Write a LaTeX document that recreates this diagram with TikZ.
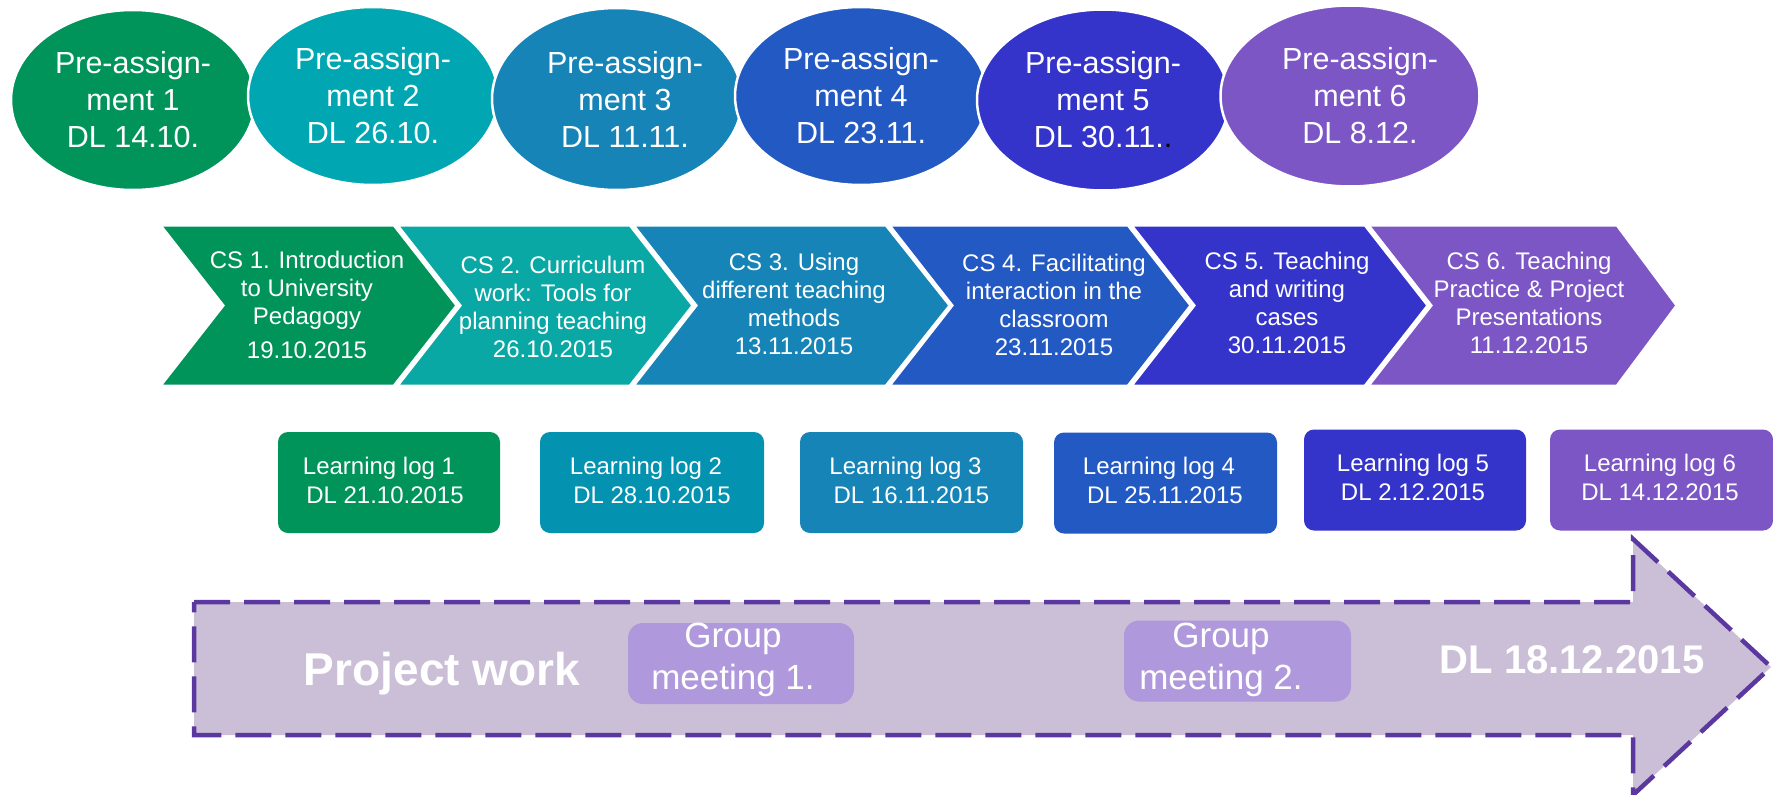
\documentclass[tikz,border=0pt]{standalone}
\usepackage{fontspec}
\setmainfont{Liberation Sans}
\usetikzlibrary{shapes.geometric}
\definecolor{cA}{HTML}{00945A}
\definecolor{cBe}{HTML}{00A7B3}
\definecolor{cBc}{HTML}{0AA8A5}
\definecolor{cBl}{HTML}{0392AF}
\definecolor{cC}{HTML}{1684B6}
\definecolor{cD}{HTML}{2359C3}
\definecolor{cE}{HTML}{3434CB}
\definecolor{cF}{HTML}{7C56C5}
\definecolor{arrfill}{HTML}{CBBFD8}
\definecolor{arrline}{HTML}{5B37A0}
\definecolor{gmfill}{HTML}{AF99DC}
\begin{document}
\begin{tikzpicture}[x=1pt,y=-1pt,
  pre/.style={ellipse, draw=white, line width=2.5pt, inner sep=0pt,
    minimum height=180pt, text=white, align=center,
    font=\fontsize{30.5}{37}\selectfont},
  chev/.style={draw=white, line width=3pt, line join=miter},
  cstext/.style={text=white, align=center, inner sep=0pt,
    font=\fontsize{24}{28}\selectfont},
  logbox/.style={rounded corners=10pt, inner sep=0pt, minimum height=101pt},
  logtext/.style={text=white, align=center, inner sep=0pt,
    font=\fontsize{24}{29}\selectfont},
  bigarrow/.style={fill=arrfill, draw=arrline, line width=4.5pt,
    dash pattern=on 36pt off 14pt, line join=miter},
  gmbox/.style={fill=gmfill, rounded corners=15pt, minimum height=81pt},
  gmtext/.style={text=white, align=center, inner sep=0pt,
    font=\fontsize{35}{42.5}\selectfont},
  bigtext/.style={text=white, inner sep=0pt}
]
\useasboundingbox (0,0) rectangle (1773,795);

% ---- pre-assignment ellipses ----
\node[pre, fill=cA,  minimum width=244pt] (e1) at (133,100) {Pre-assign-\\ment 1\\DL 14.10.};
\node[pre, fill=cBe, minimum width=250pt, minimum height=178pt] (e2) at (373,96) {Pre-assign-\\ment 2\\DL 26.10.};
\node[pre, fill=cC,  minimum width=250pt, minimum height=182pt] (e3) at (617,99) {\hspace*{16pt}Pre-assign-\\\hspace*{16pt}ment 3\\\hspace*{16pt}DL 11.11.};
\node[pre, fill=cD,  minimum width=252pt, minimum height=178pt] (e4) at (861,96) {Pre-assign-\\ment 4\\DL 23.11.};
\node[pre, fill=cE,  minimum width=252pt, minimum height=181pt] (e5) at (1103,100) {Pre-assign-\\ment 5\\DL 30.11.{\color{black}.}};
\node[pre, fill=cF,  minimum width=259pt, minimum height=181pt] (e6) at (1350,96) {\hspace*{20pt}Pre-assign-\\\hspace*{20pt}ment 6\\\hspace*{20pt}DL 8.12.};

% ---- chevrons ----
\path[chev, fill=cA]  (160,225) -- (394,225) -- (457,305.5) -- (394,386) -- (160,386) -- (223,305.5) -- cycle;
\path[chev, fill=cBc] (397,225) -- (630,225) -- (693,305.5) -- (630,386) -- (397,386) -- (460,305.5) -- cycle;
\path[chev, fill=cC]  (633,225) -- (886,225) -- (950,305.5) -- (886,386) -- (633,386) -- (696,305.5) -- cycle;
\path[chev, fill=cD]  (889,225) -- (1128,225) -- (1191,305.5) -- (1128,386) -- (889,386) -- (952,305.5) -- cycle;
\path[chev, fill=cE]  (1131,225) -- (1365,225) -- (1428,305.5) -- (1365,386) -- (1131,386) -- (1194,305.5) -- cycle;
\path[chev, fill=cF]  (1368,225) -- (1617,225) -- (1677,305.5) -- (1617,386) -- (1368,386) -- (1431,305.5) -- cycle;

\node[cstext] (c1) at (307,305) {CS 1. Introduction\\to University\\Pedagogy\\[6pt]19.10.2015};
\node[cstext] (c2) at (553,307) {CS 2. Curriculum\\work: Tools for\\planning teaching\\26.10.2015};
\node[cstext] (c3) at (794,304) {CS 3. Using\\different teaching\\methods\\13.11.2015};
\node[cstext] (c4) at (1054,305) {CS 4. Facilitating\\interaction in the\\classroom\\23.11.2015};
\node[cstext] (c5) at (1287,303) {CS 5. Teaching\\and writing\\cases\\30.11.2015};
\node[cstext] (c6) at (1529,303) {CS 6. Teaching\\Practice \& Project\\Presentations\\11.12.2015};

% ---- learning logs ----
\node[logbox, fill=cA,  minimum width=222pt] (l1) at (389,482.5) {};
\node[logbox, fill=cBl, minimum width=224pt] (l2) at (652,482.5) {};
\node[logbox, fill=cC,  minimum width=223pt] (l3) at (911.5,482.5) {};
\node[logbox, fill=cD,  minimum width=223pt] (l4) at (1165.5,483) {};
\node[logbox, fill=cE,  minimum width=222pt] (l5) at (1415,480) {};
\node[logbox, fill=cF,  minimum width=223pt] (l6) at (1661.5,480) {};
\node[logtext] (l1t) at (385,480) {Learning log 1\hspace*{12pt}\\DL 21.10.2015};
\node[logtext] (l2t) at (652,480) {Learning log 2\hspace*{12pt}\\DL 28.10.2015};
\node[logtext] (l3t) at (911.5,480) {Learning log 3\hspace*{12pt}\\DL 16.11.2015};
\node[logtext] (l4t) at (1165,480) {Learning log 4\hspace*{12pt}\\DL 25.11.2015};
\node[logtext] (l5t) at (1413,477) {Learning log 5\\DL 2.12.2015};
\node[logtext] (l6t) at (1660,477) {Learning log 6\\DL 14.12.2015};

% ---- project arrow ----
\path[bigarrow] (194,602) -- (1633,602) -- (1633,539) -- (1771,667)
  -- (1633,795) -- (1633,735) -- (194,735) -- cycle;

\node[gmbox, minimum width=226pt] (g1) at (741,663.5) {};
\node[gmbox, minimum width=227pt] (g2) at (1237.5,661) {};
\node[gmtext] (g1t) at (733,660) {Group\\meeting 1.};
\node[gmtext] (g2t) at (1221,660) {Group\\meeting 2.};

\node[bigtext, font=\fontsize{46}{50}\selectfont\bfseries] (pw) at (442,674) {Project work};
\node[bigtext, font=\fontsize{40}{44}\selectfont\bfseries] (dl) at (1572,660) {DL 18.12.2015};
\end{tikzpicture}
\end{document}
